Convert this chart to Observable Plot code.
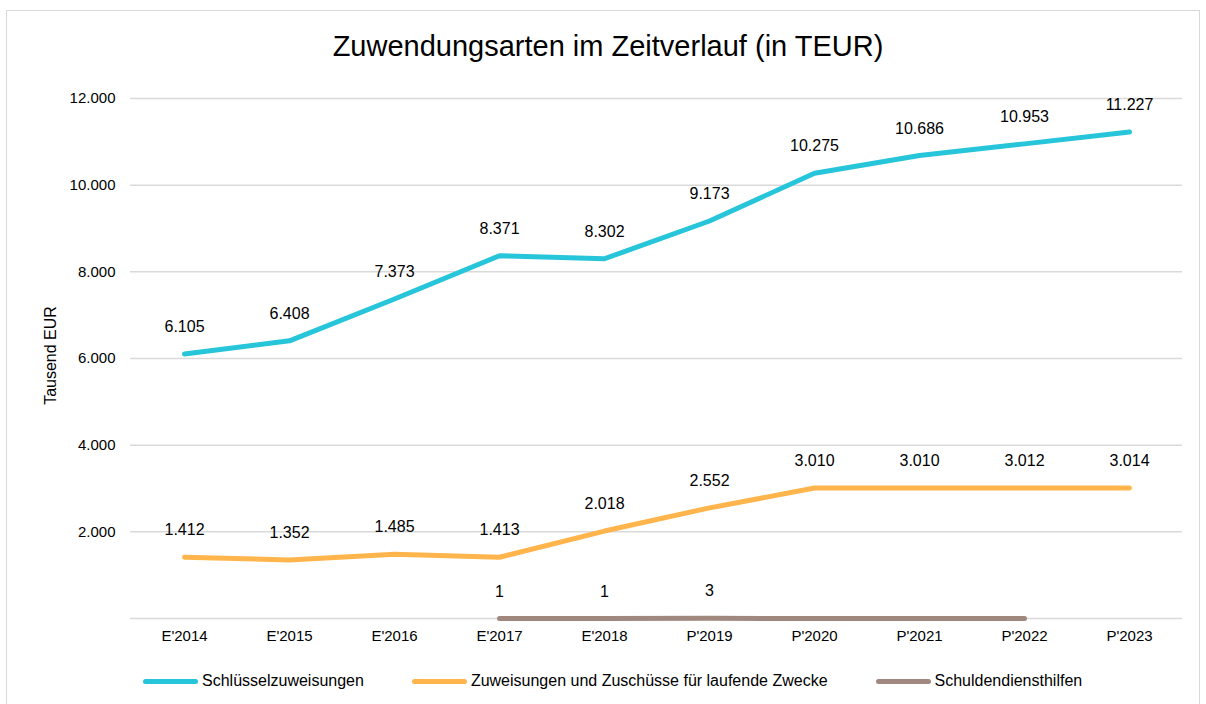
<!DOCTYPE html>
<html>
<head>
<meta charset="utf-8">
<script src="https://cdn.jsdelivr.net/npm/d3@7"></script>
<script src="https://cdn.jsdelivr.net/npm/@observablehq/plot@0.6"></script>
<style>
  html, body { margin: 0; padding: 0; background: #fff; }
  body { width: 1206px; height: 704px; position: relative; overflow: hidden; font-family: "Liberation Sans", Arial, sans-serif; color: #000; }
  #frame { position: absolute; left: 6px; top: 10px; width: 1194px; height: 720px; border: 1px solid #d9d9d9; box-sizing: border-box; }
  #title { position: absolute; left: 0; top: 32px; width: 1216px; text-align: center; font-size: 29px; line-height: 1; }
  #chart { position: absolute; left: 0; top: 0; }
  #legend { position: absolute; left: 143px; top: 670px; display: flex; align-items: center; gap: 48px; font-size: 16px; line-height: 22px; }
  .item { display: flex; align-items: center; }
  .sw { width: 55px; height: 5px; border-radius: 3px; margin-right: 4px; }
</style>
</head>
<body>
<div id="frame"></div>
<div id="title">Zuwendungsarten im Zeitverlauf (in TEUR)</div>
<div id="chart"></div>
<div id="legend"></div>
<script>
// ---- data ----
const years = ["E'2014", "E'2015", "E'2016", "E'2017", "E'2018", "P'2019", "P'2020", "P'2021", "P'2022", "P'2023"];
const seriesNames = ["Schlüsselzuweisungen", "Zuweisungen und Zuschüsse für laufende Zwecke", "Schuldendiensthilfen"];
const seriesColors = ["#27C5DA", "#FFB54C", "#A1887F"];
const schluessel = [6105, 6408, 7373, 8371, 8302, 9173, 10275, 10686, 10953, 11227];
const zuweisungen = [1412, 1352, 1485, 1413, 2018, 2552, 3010, 3010, 3012, 3014];
const schuldYears = ["E'2017", "E'2018", "P'2019", "P'2020", "P'2021", "P'2022"];
const schuld = [1, 1, 3, 0, 0, 0];
const yTicks = [2000, 4000, 6000, 8000, 10000, 12000];
const gridTicks = [0, 2000, 4000, 6000, 8000, 10000, 12000];
const yLabel = "Tausend EUR";

// ---- build rows ----
const rows = [
  ...years.map((y, i) => ({year: y, value: schluessel[i], series: seriesNames[0]})),
  ...years.map((y, i) => ({year: y, value: zuweisungen[i], series: seriesNames[1]})),
  ...schuldYears.map((y, i) => ({year: y, value: schuld[i], series: seriesNames[2]}))
];

const fmt = d => d3.format(",")(d).replace(/,/g, ".");

const chart = Plot.plot({
  width: 1206,
  height: 660,
  marginTop: 98,
  marginBottom: 42,
  marginLeft: 130,
  marginRight: 24,
  style: { fontFamily: "'Liberation Sans', Arial, sans-serif", fontSize: "15px", color: "#000", background: "transparent" },
  x: { type: "point", domain: years, padding: 0.5, label: null },
  y: { domain: [0, 12000], label: null },
  color: { domain: seriesNames, range: seriesColors },
  marks: [
    Plot.gridY(gridTicks, { stroke: "#d9d9d9", strokeOpacity: 1, strokeWidth: 1.5 }),
    Plot.axisY(yTicks, { tickSize: 0, tickPadding: 15, tickFormat: fmt, label: null, fill: "#000" }),
    Plot.axisX({ tickSize: 0, tickPadding: 12, label: null, fill: "#000" }),
    Plot.text([yLabel], { frameAnchor: "left", textAnchor: "middle", dx: -80, dy: -3, rotate: -90, fill: "#000", fontSize: 16 }),
    Plot.line(rows, { x: "year", y: "value", z: "series", stroke: "series", strokeWidth: 5, strokeLinecap: "round", strokeLinejoin: "round" }),
    Plot.text(rows.filter(d => d.value > 0), { x: "year", y: "value", text: d => fmt(d.value), dy: -27, fill: "#000", fontSize: 16 })
  ]
});
document.getElementById("chart").appendChild(chart);

// ---- legend ----
const legend = document.getElementById("legend");
seriesNames.forEach((name, i) => {
  const item = document.createElement("div");
  item.className = "item";
  const sw = document.createElement("div");
  sw.className = "sw";
  sw.style.background = seriesColors[i];
  const t = document.createElement("span");
  t.textContent = name;
  item.appendChild(sw);
  item.appendChild(t);
  legend.appendChild(item);
});
</script>
</body>
</html>
